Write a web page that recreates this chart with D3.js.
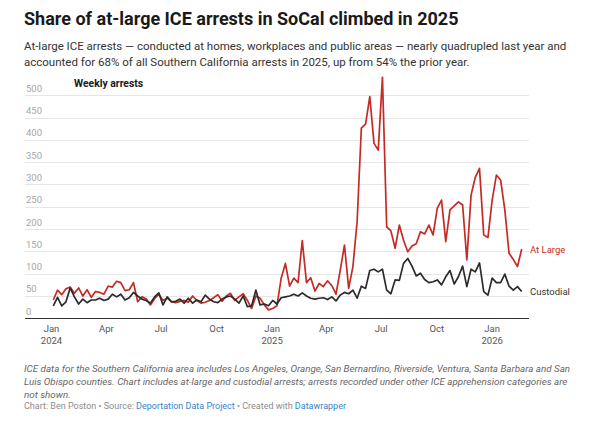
<!DOCTYPE html>
<html>
<head>
<meta charset="utf-8">
<script src="https://cdn.jsdelivr.net/npm/d3@7"></script>
<style>
  body { margin: 0; background: #fff; }
  svg { display: block; font-family: Roboto, "Noto Sans", sans-serif; }
</style>
</head>
<body>
<svg id="chart" width="600" height="431"></svg>
<script>
// weekly counts, one value per week
const firstWeek = "2024-01-04";

const atLarge = [
  41, 63, 53, 66, 70, 56, 68, 50, 64, 47, 60, 58, 54, 72, 70, 83, 80, 62, 64, 80,
  37, 48, 44, 30, 44, 54, 40, 45, 37, 35, 38, 40, 36, 50, 40, 34, 36, 40, 46, 53,
  38, 50, 56, 40, 48, 55, 40, 22, 50, 45, 30, 19, 22, 28, 90, 123, 72, 90, 80, 174,
  80, 91, 61, 78, 71, 84, 73, 54, 108, 164, 67, 116, 217, 426, 435, 497, 392, 377, 540, 205,
  196, 157, 209, 175, 149, 162, 167, 194, 189, 209, 187, 247, 265, 172, 243, 252, 261, 254, 131, 276,
  316, 336, 187, 181, 265, 321, 310, 243, 146, 132, 116, 155
];

const custodial = [
  28, 47, 28, 37, 68, 48, 32, 43, 35, 41, 41, 45, 40, 43, 54, 48, 54, 41, 46, 58,
  50, 43, 40, 34, 48, 57, 30, 48, 37, 38, 43, 34, 45, 34, 41, 37, 52, 43, 37, 35,
  43, 48, 50, 43, 34, 50, 26, 28, 63, 30, 32, 28, 40, 32, 46, 48, 50, 54, 50, 57,
  50, 45, 43, 45, 46, 42, 48, 39, 52, 58, 55, 63, 45, 72, 67, 107, 110, 104, 110, 63,
  55, 86, 85, 123, 134, 117, 95, 101, 87, 80, 82, 86, 75, 93, 107, 77, 93, 117, 71, 110,
  104, 124, 60, 52, 90, 80, 80, 99, 72, 63, 71, 60
];

const yTicks = [0, 50, 100, 150, 200, 250, 300, 350, 400, 450, 500];

const xTickDates = [
  "2024-01-01", "2024-04-01", "2024-07-01", "2024-10-01",
  "2025-01-01", "2025-04-01", "2025-07-01", "2025-10-01", "2026-01-01"
];
const xTickLabels = [
  ["Jan", "2024"], ["Apr"], ["Jul"], ["Oct"],
  ["Jan", "2025"], ["Apr"], ["Jul"], ["Oct"], ["Jan", "2026"]
];

const seriesNames = ["At Large", "Custodial"];
const seriesColors = ["#c42b25", "#2b2b2b"];

const notes = [
  "ICE data for the Southern California area includes Los Angeles, Orange, San Bernardino, Riverside, Ventura, Santa Barbara and San",
  "Luis Obispo counties. Chart includes at-large and custodial arrests; arrests recorded under other ICE apprehension categories are",
  "not shown."
];

const parse = d3.timeParse("%Y-%m-%d");
const start = parse(firstWeek);
const weeks = atLarge.map((d, i) => d3.timeDay.offset(start, i * 7));

const svg = d3.select("#chart");

svg.append("rect")
  .attr("width", 600)
  .attr("height", 431)
  .attr("fill", "#fff");

// header
svg.append("text")
  .attr("x", 24)
  .attr("y", 25)
  .attr("font-size", 18)
  .attr("font-weight", 700)
  .attr("fill", "#1a1a1a")
  .text("Share of at-large ICE arrests in SoCal climbed in 2025");

svg.append("g")
  .selectAll("text")
  .data([
    "At-large ICE arrests — conducted at homes, workplaces and public areas — nearly quadrupled last year and",
    "accounted for 68% of all Southern California arrests in 2025, up from 54% the prior year."
  ])
  .enter()
  .append("text")
  .attr("x", 24)
  .attr("y", (d, i) => 50 + i * 16)
  .attr("font-size", 11.5)
  .attr("fill", "#333")
  .text(d => d);

// scales
const x = d3.scaleTime()
  .domain([weeks[0], weeks[weeks.length - 1]])
  .range([53.3, 521.7]);

const y = d3.scaleLinear()
  .domain([0, 500])
  .range([318.3, 95.2]);

const grid = svg.append("g").attr("class", "grid");

grid.selectAll("line")
  .data(yTicks)
  .enter()
  .append("line")
  .attr("x1", 25)
  .attr("x2", 529)
  .attr("y1", d => Math.round(y(d)) + 0.5)
  .attr("y2", d => Math.round(y(d)) + 0.5)
  .attr("stroke", d => d === 0 ? "#333" : "#e6e6e6")
  .attr("stroke-width", 1);

grid.selectAll("text")
  .data(yTicks)
  .enter()
  .append("text")
  .attr("x", 26)
  .attr("y", d => y(d) - 3.5)
  .attr("font-size", 9.5)
  .attr("fill", "#a6a6a6")
  .text(d => d);

svg.append("text")
  .attr("x", 74)
  .attr("y", 86.5)
  .attr("font-size", 10.4)
  .attr("font-weight", 700)
  .attr("fill", "#1a1a1a")
  .text("Weekly arrests");

// x axis labels
const xAxis = svg.append("g").attr("class", "xAxis");

xAxis.selectAll("text")
  .data(xTickDates)
  .enter()
  .append("text")
  .attr("text-anchor", "middle")
  .attr("font-size", 9.5)
  .attr("fill", "#555")
  .each(function (d, i) {
    d3.select(this)
      .selectAll("tspan")
      .data(xTickLabels[i])
      .enter()
      .append("tspan")
      .attr("x", x(parse(d)))
      .attr("y", (t, j) => 331.5 + j * 12)
      .text(t => t);
  });

// lines
const line = d3.line()
  .x((d, i) => x(weeks[i]))
  .y(d => y(d));

svg.append("g")
  .selectAll("path")
  .data([atLarge, custodial])
  .enter()
  .append("path")
  .attr("d", line)
  .attr("fill", "none")
  .attr("stroke", (d, i) => seriesColors[i])
  .attr("stroke-width", 1.7)
  .attr("stroke-linejoin", "round");

svg.append("g")
  .selectAll("text")
  .data(seriesNames)
  .enter()
  .append("text")
  .attr("x", 530)
  .attr("y", (d, i) => [253, 295][i])
  .attr("font-size", 9.5)
  .attr("fill", (d, i) => i === 0 ? seriesColors[0] : "#333")
  .text(d => d);

// footer
svg.append("g")
  .selectAll("text")
  .data(notes)
  .enter()
  .append("text")
  .attr("x", 24)
  .attr("y", (d, i) => 372 + i * 12.8)
  .attr("font-size", 9.8)
  .attr("font-style", "italic")
  .attr("fill", "#666")
  .text(d => d);

const credit = svg.append("text")
  .attr("x", 24)
  .attr("y", 409)
  .attr("font-size", 9)
  .attr("fill", "#8c8c8c");

credit.append("tspan").text("Chart: Ben Poston • Source: ");
credit.append("tspan").attr("fill", "#3a83c8").text("Deportation Data Project");
credit.append("tspan").text(" • Created with ");
credit.append("tspan").attr("fill", "#3a83c8").text("Datawrapper");
</script>
</body>
</html>
